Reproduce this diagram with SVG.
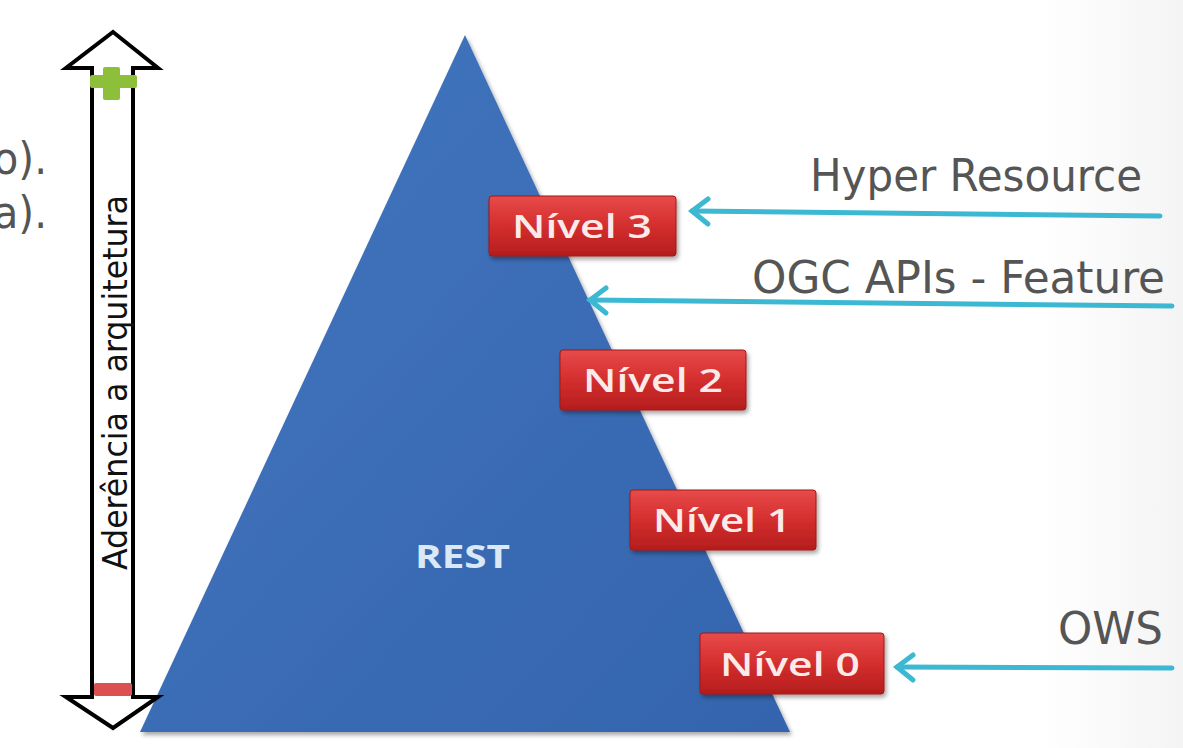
<svg xmlns="http://www.w3.org/2000/svg" width="1183" height="748" viewBox="0 0 1183 748">
<style>
.side{font-family:"DejaVu Sans Condensed","DejaVu Sans",sans-serif;fill:#555555;font-size:45px}
.lvl{font-family:"Open Sans","DejaVu Sans",sans-serif;font-weight:600;fill:#fbeaea;font-size:33px}
.conn{stroke:#3cb8d2;stroke-width:5;fill:none;stroke-linecap:round}
.box{fill:url(#red);stroke:#a01818;stroke-width:1}
</style>
<defs>
<linearGradient id="red" x1="0" y1="0" x2="0" y2="1">
<stop offset="0" stop-color="#e84a4a"/>
<stop offset="0.5" stop-color="#d42e2e"/>
<stop offset="1" stop-color="#b51d1d"/>
</linearGradient>
<linearGradient id="blue" x1="0" y1="0" x2="1" y2="1">
<stop offset="0" stop-color="#4276bf"/>
<stop offset="1" stop-color="#3464ad"/>
</linearGradient>
<linearGradient id="bg" x1="0" y1="0" x2="1" y2="0">
<stop offset="0.88" stop-color="#ffffff"/>
<stop offset="1" stop-color="#f4f4f4"/>
</linearGradient>
<filter id="sh" x="-10%" y="-10%" width="130%" height="140%">
<feDropShadow dx="2" dy="3" stdDeviation="2" flood-color="#000" flood-opacity="0.35"/>
</filter>
</defs>
<rect width="1183" height="748" fill="url(#bg)"/>
<text class="side" x="47" y="174" text-anchor="end">o).</text>
<text class="side" x="47" y="228" text-anchor="end">a).</text>

<g id="pyramid">
<polygon points="465,35 790,732 140,732" fill="url(#blue)" filter="url(#sh)"/>
<text x="415" y="568" textLength="95" lengthAdjust="spacingAndGlyphs" font-family="Open Sans, DejaVu Sans, sans-serif" font-weight="bold" font-size="32" fill="#dbe8f6">REST</text>
</g>

<g id="axis">
<path d="M113,32 L158,68 L133,68 L133,697 L158,697 L113,728 L66,697 L92,697 L92,68 L66,68 Z" fill="#ffffff" stroke="#000" stroke-width="4" stroke-linejoin="miter"/>
<rect x="94" y="683" width="38" height="13" fill="#dd5050" rx="2"/>
<rect x="103" y="67" width="17" height="33" fill="#8dbf3a" rx="2"/>
<rect x="90" y="75" width="47" height="13" fill="#8dbf3a" rx="2"/>
<text transform="translate(127,570) rotate(-90)" textLength="375" lengthAdjust="spacingAndGlyphs" font-family="DejaVu Sans Condensed, DejaVu Sans, sans-serif" font-size="34" fill="#111">Aderência a arquitetura</text>
</g>

<g id="nivel3">
<rect class="box" x="489" y="196" width="187" height="60" rx="3" filter="url(#sh)"/>
<text class="lvl" x="512" y="238" textLength="140" lengthAdjust="spacingAndGlyphs">Nível 3</text>
</g>
<g id="nivel2">
<rect class="box" x="560" y="350" width="186" height="60" rx="3" filter="url(#sh)"/>
<text class="lvl" x="583" y="392" textLength="140" lengthAdjust="spacingAndGlyphs">Nível 2</text>
</g>
<g id="nivel1">
<rect class="box" x="630" y="490" width="186" height="60" rx="3" filter="url(#sh)"/>
<text class="lvl" x="653" y="532" textLength="138" lengthAdjust="spacingAndGlyphs">Nível 1</text>
</g>
<g id="nivel0">
<rect class="box" x="700" y="633" width="184" height="61" rx="3" filter="url(#sh)"/>
<text class="lvl" x="720" y="676" textLength="140" lengthAdjust="spacingAndGlyphs">Nível 0</text>
</g>

<g id="hyper">
<text class="side" x="810" y="191" textLength="332" lengthAdjust="spacingAndGlyphs">Hyper Resource</text>
</g>
<g id="ogc">
<text class="side" x="752" y="293" textLength="413" lengthAdjust="spacingAndGlyphs">OGC APIs - Feature</text>
</g>
<g id="ows">
<text class="side" x="1058" y="644" textLength="105" lengthAdjust="spacingAndGlyphs">OWS</text>
</g>

<g id="connectors">
<path class="conn" d="M1160,216 L692,211"/>
<path class="conn" d="M708,199 L692,211 L708,224"/>
<path class="conn" d="M1172,306 L590,300"/>
<path class="conn" d="M606,288 L590,300 L606,313"/>
<path class="conn" d="M1172,668 L897,667"/>
<path class="conn" d="M913,655 L897,667 L913,680"/>
</g>
</svg>
